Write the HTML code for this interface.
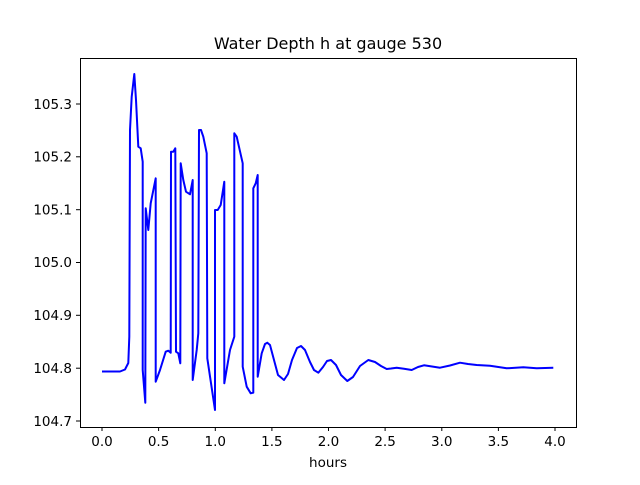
<!DOCTYPE html><html><head><style>body{margin:0;background:#fff}</style></head><body>
<svg width="640" height="480" xmlns="http://www.w3.org/2000/svg" font-family="DejaVu Sans, Liberation Sans, sans-serif" font-size="13.5">
<rect width="640" height="480" fill="#fff"/>
<text x="328" y="49" font-size="16" text-anchor="middle">Water Depth h at gauge 530</text>
<polyline fill="none" stroke="#0000ff" stroke-width="2" stroke-linejoin="round" points="
102,371.5 120,371.5 125,369.5 128.3,363 129.3,336.7 130,130 131.7,96.7 134.3,74 136,100 138.3,146.7 140.7,148.3 142.7,161.7 142.7,370 145.3,402.7 145.7,208.3 148.3,230 150.7,203.3 155.7,178.3 155.7,381.7 160,370 165.7,351.7 168.3,350.7 170.7,352.7 171,151.7 173.3,151.7 175.3,148.3 176,351.7 178.3,353.3 180.3,363.3 180.7,163.3 183.3,180 186,191.7 190,194.3 192.7,180 192.7,380 196.7,350 198.3,333.3 199,130 201,130 203.3,136.7 206.7,153.3 207.3,358.3 215,410 215,210 217.7,210 220.7,205 224.3,181.7 224.3,383.3 230,350 234.3,336.7 234.3,133.3 236.7,136.7 242.7,163.3 242.7,366.7 246.7,386.7 250.7,393.3 253.3,392.7 253.3,188.3 255.7,183.3 257.7,175 257.7,376.7 261.7,353.3 265,344 267.3,342.7 270,345 274,360 278,375 284,380 288,374 292,360 297,348 301,346 305,350 310,362 314,370 318.3,372.7 323,367 327,361 331,360 336,365 341,375 347.3,381 353,377 360,366 368.3,360 375,362 381,366 386.7,369 391,368.5 396.7,367.7 404,368.8 411.7,370 418,367 424,365.3 432,366.5 440,367.7 450,365.5 460,362.7 468,364 476.7,365 490,365.7 506.7,368.3 523.3,367.3 536.7,368.3 553.3,367.7"/>
<rect x="80.5" y="58.5" width="496" height="369" fill="none" stroke="#000" stroke-width="1"/>
<g stroke="#000">
<line x1="102" y1="427" x2="102" y2="431"/><line x1="158.6" y1="427" x2="158.6" y2="431"/><line x1="215.3" y1="427" x2="215.3" y2="431"/><line x1="271.9" y1="427" x2="271.9" y2="431"/><line x1="328.5" y1="427" x2="328.5" y2="431"/><line x1="385.1" y1="427" x2="385.1" y2="431"/><line x1="441.8" y1="427" x2="441.8" y2="431"/><line x1="498.4" y1="427" x2="498.4" y2="431"/><line x1="555" y1="427" x2="555" y2="431"/>
<line x1="76" y1="421" x2="80" y2="421"/><line x1="76" y1="368.2" x2="80" y2="368.2"/><line x1="76" y1="315.3" x2="80" y2="315.3"/><line x1="76" y1="262.5" x2="80" y2="262.5"/><line x1="76" y1="209.7" x2="80" y2="209.7"/><line x1="76" y1="156.8" x2="80" y2="156.8"/><line x1="76" y1="104" x2="80" y2="104"/>
</g>
<g text-anchor="middle">
<text x="102" y="446">0.0</text><text x="158.6" y="446">0.5</text><text x="215.3" y="446">1.0</text><text x="271.9" y="446">1.5</text><text x="328.5" y="446">2.0</text><text x="385.1" y="446">2.5</text><text x="441.8" y="446">3.0</text><text x="498.4" y="446">3.5</text><text x="555" y="446">4.0</text>
<text x="328" y="467">hours</text>
</g>
<g text-anchor="end">
<text x="72" y="426">104.7</text><text x="72" y="373">104.8</text><text x="72" y="320">104.9</text><text x="72" y="267">105.0</text><text x="72" y="214.5">105.1</text><text x="72" y="161.5">105.2</text><text x="72" y="109">105.3</text>
</g>
</svg></body></html>
